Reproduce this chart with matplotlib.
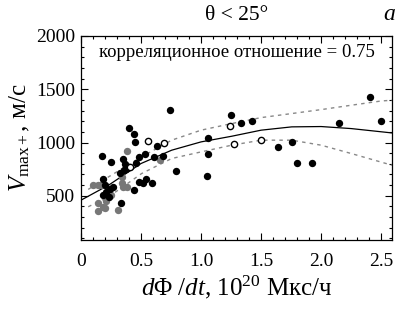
import matplotlib
matplotlib.use("Agg")
import matplotlib.pyplot as plt
from matplotlib.ticker import MultipleLocator, FixedLocator, FixedFormatter

plt.rcParams['font.family'] = ['Liberation Serif', 'DejaVu Serif']
plt.rcParams['mathtext.fontset'] = 'custom'
plt.rcParams['mathtext.rm'] = 'Liberation Serif'
plt.rcParams['mathtext.it'] = 'Liberation Serif:italic'

# black points
bx = [0.175, 0.186, 0.2, 0.186, 0.25, 0.27, 0.23, 0.33, 0.40, 0.44, 0.45, 0.35, 0.37,
      0.325, 0.36, 0.375, 0.455, 0.486, 0.53, 0.605, 0.63, 0.686, 0.48, 0.515, 0.54,
      0.59, 0.44, 0.74, 0.79, 1.055, 1.06, 1.05, 1.25, 1.33, 1.42, 1.64, 1.755, 1.8,
      1.92, 2.15, 2.41, 2.5, 0.21, 0.24]
by = [872, 656, 600, 512, 819, 584, 490, 434, 1140, 1084, 1003, 850, 794,
      716, 740, 747, 812, 862, 894, 866, 972, 875, 634, 616, 659,
      622, 559, 1303, 734, 1047, 890, 690, 1256, 1187, 1203, 959, 1003, 812,
      812, 1184, 1428, 1203, 540, 560]
# open circles
ox = [0.41, 0.56, 0.69, 1.24, 1.275, 1.5]
oy = [772, 1012, 1000, 1153, 990, 1025]
# gray points
gx = [0.10, 0.14, 0.167, 0.14, 0.145, 0.186, 0.23, 0.25, 0.386, 0.34, 0.35, 0.38,
      0.31, 0.20, 0.66, 0.34, 0.21]
gy = [597, 597, 597, 428, 359, 397, 522, 506, 919, 616, 584, 584,
      366, 381, 840, 678, 450]

# regression curve and its bounds
cx = [0.0, 0.23, 0.5, 0.755, 1.0, 1.255, 1.5, 1.755, 2.0, 2.25, 2.59]
cy = [459, 600, 803, 928, 1006, 1059, 1116, 1147, 1150, 1131, 1090]
ux = [0.06, 0.23, 0.505, 0.755, 1.0, 1.255, 1.5, 1.755, 2.0, 2.25, 2.5, 2.59]
uy = [560, 678, 866, 1022, 1116, 1178, 1234, 1272, 1309, 1350, 1390, 1397]
lx = [0.06, 0.23, 0.505, 0.755, 1.0, 1.255, 1.5, 1.755, 2.0, 2.25, 2.59]
ly = [397, 490, 709, 850, 912, 975, 1022, 1022, 975, 897, 787]

xticks = [0, 0.5, 1.0, 1.5, 2.0, 2.5]
xticklabels = ['0', '0.5', '1.0', '1.5', '2.0', '2.5']
yticks = [500, 1000, 1500, 2000]

fig = plt.figure(figsize=(4.04, 3.11), dpi=100)
ax = fig.add_axes([81/404, 1-240/311, (392-81)/404, (240-36)/311])

ax.plot(ux, uy, color='#888888', lw=1.0, ls=(0, (2.5, 3)))
ax.plot(lx, ly, color='#888888', lw=1.0, ls=(0, (2.5, 3)))
ax.plot(cx, cy, color='black', lw=0.9)
ax.plot(gx, gy, 'o', color='#777777', ms=5.3, mec='none')
ax.plot(bx, by, 'o', color='black', ms=5.3, mec='none')
ax.plot(ox, oy, 'o', mfc='white', mec='black', ms=4.5, mew=1.0)

ax.set_xlim(0, 2.59)
ax.set_ylim(85, 2000)
ax.xaxis.set_major_locator(FixedLocator(xticks))
ax.xaxis.set_major_formatter(FixedFormatter(xticklabels))
ax.xaxis.set_minor_locator(MultipleLocator(0.1))
ax.yaxis.set_major_locator(FixedLocator(yticks))
ax.yaxis.set_minor_locator(MultipleLocator(100))
ax.tick_params(which='both', direction='in', top=True, right=True, labelsize=14, width=0.8)
ax.tick_params(which='major', length=5)
ax.tick_params(which='minor', length=2.5)
ax.tick_params(axis='x', pad=9)
ax.tick_params(axis='y', pad=4)
for s in ax.spines.values():
    s.set_linewidth(0.9)

ax.text(0.5, 0.92, 'корреляционное отношение = 0.75', transform=ax.transAxes,
        ha='center', va='center', fontsize=13.5)
fig.text(237/404, 1-15/311, 'θ < 25°', ha='center', va='center', fontsize=15.5)
fig.text(389/404, 1-14/311, r'$a$', ha='center', va='center', fontsize=17)
ax.set_xlabel(r'$d\Phi\ /dt$, 10$^{20}$ Мкс/ч', fontsize=18, labelpad=3)
ax.set_ylabel(r'$V_{\rm max+}$, м/с', fontsize=18, labelpad=3)

fig.savefig('out.png', dpi=100)
